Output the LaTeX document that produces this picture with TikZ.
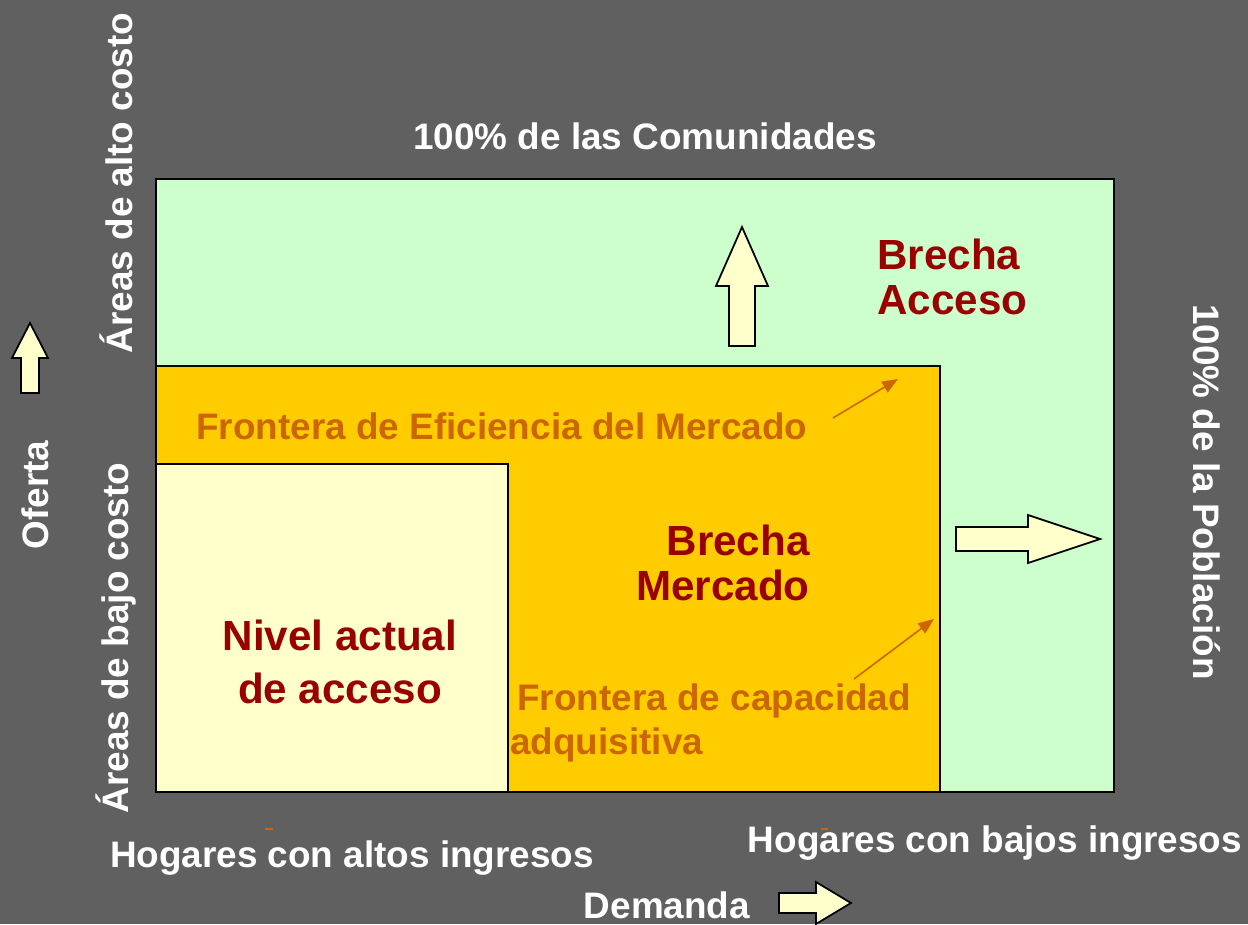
\documentclass[tikz,border=0pt]{standalone}
\usepackage{fontspec}
\setmainfont{Liberation Sans}
\usepackage{xcolor}
\usepackage{tikz}
\usetikzlibrary{arrows.meta,positioning}
\definecolor{slidegray}{RGB}{96,96,96}
\definecolor{mint}{RGB}{204,255,204}
\definecolor{gold}{RGB}{255,204,0}
\definecolor{cream}{RGB}{255,255,204}
\definecolor{wine}{RGB}{153,0,0}
\definecolor{rust}{RGB}{204,102,0}

\begin{document}
\begin{tikzpicture}[x=0.02cm, y=-0.02cm,
  every node/.style={inner sep=0pt, font=\bfseries\fontsize{21}{26}\selectfont},
  white text/.style={text=white},
  gap text/.style={text=wine, font=\bfseries\fontsize{24}{26}\selectfont},
  edge text/.style={text=rust},
  blockarrow/.style={fill=cream, draw=black, line width=1pt, line join=miter},
  pointer/.style={draw=rust, line width=0.9pt, -{Triangle[length=9pt, width=7pt]}}]
\fill[slidegray] (0,0) rectangle (1248,924);
\useasboundingbox (0,0) rectangle (1248,924);

%zones
\filldraw[fill=mint, draw=black, line width=0.8pt] (156,179) rectangle (1114,792);
\filldraw[fill=gold, draw=black, line width=0.8pt] (156,366) rectangle (940,792);
\filldraw[fill=cream, draw=black, line width=0.8pt] (156,464) rectangle (508,792);

%block arrows
\filldraw[blockarrow] (729,346) -- (729,286) -- (716,286) -- (742,227) -- (768,286) -- (755,286) -- (755,346) -- cycle;
\filldraw[blockarrow] (956,527) -- (1028,527) -- (1028,515) -- (1100,539) -- (1028,563) -- (1028,551) -- (956,551) -- cycle;
\filldraw[blockarrow] (21,393) -- (21,358) -- (12,358) -- (30,323) -- (48,358) -- (39,358) -- (39,393) -- cycle;
\filldraw[blockarrow] (779,893) -- (816,893) -- (816,882) -- (851,903) -- (816,924) -- (816,913) -- (779,913) -- cycle;

%ticks
\draw[rust, line width=1pt] (265,829) -- (273,829);
\draw[rust, line width=1pt] (821,829) -- (828,829);

%labels round the frame
\node[white text, anchor=base] (comunidades) at (645,149) {100\% de las Comunidades};
\node[white text, rotate=90] (altocosto) at (116,183) {Áreas de alto costo};
\node[white text, rotate=90] (bajocosto) at (116,638) {Áreas de bajo costo};
\node[white text, rotate=90] (oferta) at (35,495) {Oferta};
\node[white text, rotate=-90] (poblacion) at (1207,492) {100\% de la Población};
\node[white text, anchor=base] (altos) at (352,867) {Hogares con altos ingresos};
\node[white text, anchor=base] (bajos) at (995,852) {Hogares con bajos ingresos};
\node[white text, anchor=base] (demanda) at (667,918) {Demanda};

%gaps
\node[gap text, align=left, anchor=west] (acceso) at (877,277) {Brecha\\Acceso};
\node[gap text, align=right, anchor=east] (mercado) at (810,563) {Brecha\\Mercado};
\node[gap text, align=center, font=\bfseries\fontsize{24}{30}\selectfont] (nivel) at (340,662) {Nivel actual\\de acceso};

%frontiers
\node[edge text, anchor=base west] (eficiencia) at (196,439) {Frontera de Eficiencia del Mercado};
\node[edge text, align=left, anchor=west, font=\bfseries\fontsize{21}{25.5}\selectfont] (capacidad) at (510,723) {\hspace{4pt}Frontera de capacidad\\adquisitiva};
\coordinate (eficienciatail) at (833,418);
\coordinate (eficienciatip) at (898,379);
\coordinate (capacidadtail) at (854,679);
\coordinate (capacidadtip) at (934,619);
\draw[pointer] (eficienciatail) -- (eficienciatip);
\draw[pointer] (capacidadtail) -- (capacidadtip);
\end{tikzpicture}
\end{document}
